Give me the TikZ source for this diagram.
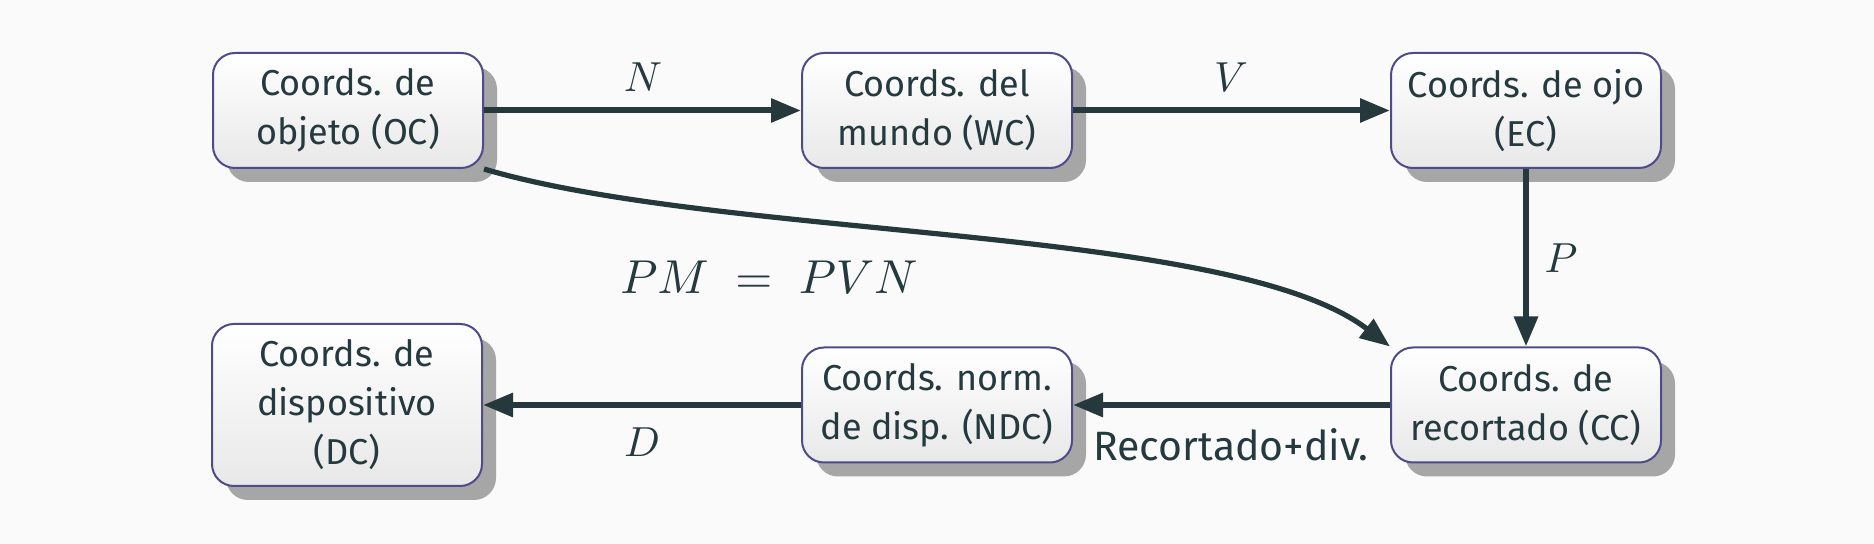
\documentclass[tikz,border=0pt]{standalone}
\usepackage{fontspec}
\setmainfont{Fira Sans}
\usetikzlibrary{arrows.meta,shadows}
\definecolor{bg}{HTML}{FAFAFA}
\definecolor{ink}{HTML}{243A3F}
\definecolor{edge}{HTML}{25383C}
\definecolor{bord}{HTML}{4E4A8C}
\definecolor{shad}{HTML}{A6A6A6}
\begin{document}
\begin{tikzpicture}[x=0.5pt,y=-0.5pt,
  box/.style={rounded corners=11pt, draw=bord, line width=1pt, top color=white, bottom color=black!9,
    minimum width=135pt, minimum height=57.5pt, align=center, text=ink,
    font=\fontsize{18}{24.5}\selectfont, inner sep=2pt,
    drop shadow={shadow xshift=7pt, shadow yshift=-7pt, fill=shad, opacity=1}},
  conn/.style={draw=edge, line width=3pt, -{Triangle[length=15pt,width=11.5pt]}},
  mlab/.style={text=ink, font=\fontsize{10}{12}\selectfont, inner sep=0pt},
  tlab/.style={text=ink, font=\fontsize{20.5}{24}\selectfont, inner sep=0pt}]
\fill[bg] (0,0) rectangle (1874,544);
\useasboundingbox (0,0) rectangle (1874,544);

\node[box] (oc) at (348,110.5) {Coords. de\\objeto (OC)};
\node[box] (wc) at (937,110.5) {Coords. del\\mundo (WC)};
\node[box] (ec) at (1526,110.5) {Coords. de ojo\\(EC)};
\node[box] (cc) at (1526,405) {Coords. de\\recortado (CC)};
\node[box] (ndc) at (937,405) {Coords. norm.\\de disp. (NDC)};
\node[box, minimum height=81pt] (dc) at (347,405) {Coords. de\\dispositivo\\(DC)};

\draw[conn] (oc.east) -- (wc.west);
\draw[conn] (wc.east) -- (ec.west);
\draw[conn] (ec.south) -- (cc.north);
\draw[conn] (cc.west) -- (ndc.east);
\draw[conn] (ndc.west) -- (dc.east);
\draw[conn, line width=2.6pt] (oc.south east) .. controls (725,240) and (1231,225) .. (cc.north west);

\node[mlab, scale=2.1] (lN) at (643,77) {$N$};
\node[mlab, scale=2.1] (lV) at (1231,77) {$V$};
\node[mlab, scale=2.1] (lP) at (1561,258) {$P$};
\node[mlab, scale=2.1] (lD) at (642,442) {$D$};
\node[tlab] (lR) at (1231,445) {Recortado+div.};
\node[mlab, scale=2.38] (lPM) at (769,277) {$PM\;=\;PVN$};
\end{tikzpicture}
\end{document}
